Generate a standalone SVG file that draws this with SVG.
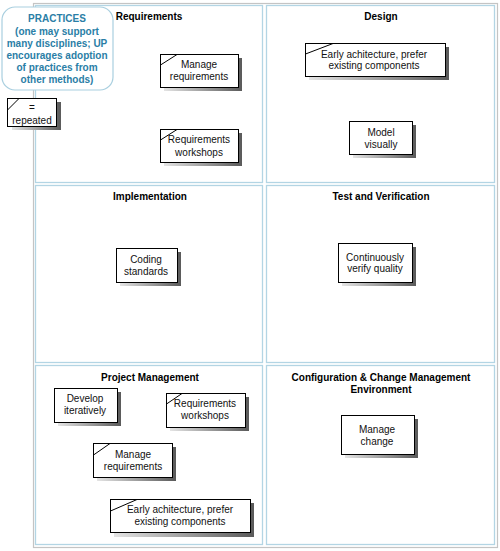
<svg xmlns="http://www.w3.org/2000/svg" width="500" height="551" viewBox="0 0 500 551">
<defs>
<linearGradient id="sh" x1="0" y1="0" x2="1" y2="0">
<stop offset="0" stop-color="#e4e4e4"/>
<stop offset="1" stop-color="#5a5a5a"/>
</linearGradient>
</defs>
<style>
.frame{fill:#fff;stroke:#c4c4c4;stroke-width:1.2}
.cell{fill:#fff;stroke:#b3d5e4;stroke-width:1.3}
.title{font-family:"Liberation Sans",Arial,sans-serif;font-size:10px;font-weight:bold;fill:#000;text-anchor:middle}
.t{font-family:"Liberation Sans",Arial,sans-serif;font-size:10px;fill:#111;text-anchor:middle}
.box{fill:#fff;stroke:#000;stroke-width:1}
.shadow{fill:url(#sh);stroke:none}
.rep{fill:none;stroke:#000;stroke-width:1}
.call{fill:#fff;stroke:#a9cfdf;stroke-width:1.2}
.ct{font-family:"Liberation Sans",Arial,sans-serif;font-size:10px;font-weight:bold;fill:#2a7ea6;text-anchor:middle}
</style>
<rect class="frame" x="33.5" y="3.5" width="464" height="544"/>
<g id="cell-requirements"><rect class="cell" x="35.5" y="5.5" width="227" height="177"/><text class="title" x="149" y="20">Requirements</text></g>
<g id="cell-design"><rect class="cell" x="266.5" y="5.5" width="228" height="177"/><text class="title" x="381" y="20">Design</text></g>
<g id="cell-implementation"><rect class="cell" x="35.5" y="185.5" width="227" height="177"/><text class="title" x="150" y="200">Implementation</text></g>
<g id="cell-test"><rect class="cell" x="266.5" y="185.5" width="228" height="177"/><text class="title" x="381" y="200">Test and Verification</text></g>
<g id="cell-pm"><rect class="cell" x="35.5" y="365.5" width="227" height="179"/><text class="title" x="150" y="381">Project Management</text></g>
<g id="cell-ccm"><rect class="cell" x="266.5" y="365.5" width="228" height="179"/><text class="title" x="381" y="381">Configuration &amp; Change Management</text><text class="title" x="381" y="393">Environment</text></g>
<g id="connectors"/>
<g id="practices-callout"><rect class="call" x="2" y="7" width="111" height="83" rx="13" ry="13"/>
<text class="ct" x="57" y="22">PRACTICES</text>
<text class="ct" x="57" y="34.5">(one may support</text>
<text class="ct" x="57" y="46.5">many disciplines; UP</text>
<text class="ct" x="57" y="58.5">encourages adoption</text>
<text class="ct" x="57" y="70.5">of practices from</text>
<text class="ct" x="57" y="82.5">other methods)</text></g>
<g id="legend-repeated"><rect class="shadow" x="12" y="102" width="49" height="28"/><rect class="box" x="7.5" y="98.5" width="49" height="28"/><line class="rep" x1="7.5" y1="110" x2="19" y2="98.5"/><text class="t" x="32" y="111">=</text><text class="t" x="32" y="124">repeated</text></g>
<g id="req-manage"><rect class="shadow" x="164" y="58" width="78" height="33"/><rect class="box" x="160.5" y="54.5" width="78" height="33"/><line class="rep" x1="160.5" y1="65" x2="177" y2="54.5"/><text class="t" x="199" y="67.5">Manage</text><text class="t" x="199" y="79.5">requirements</text></g>
<g id="req-workshops"><rect class="shadow" x="164" y="133" width="78" height="33"/><rect class="box" x="160.5" y="129.5" width="78" height="33"/><line class="rep" x1="160.5" y1="140" x2="177" y2="129.5"/><text class="t" x="199" y="142.5">Requirements</text><text class="t" x="199" y="155.5">workshops</text></g>
<g id="design-early"><rect class="shadow" x="309" y="47" width="140" height="33"/><rect class="box" x="305.5" y="43.5" width="140" height="33"/><line class="rep" x1="305.5" y1="54" x2="333" y2="43.5"/><text class="t" x="374" y="57.5">Early achitecture, prefer</text><text class="t" x="374" y="69">existing components</text></g>
<g id="design-model"><rect class="shadow" x="353" y="125" width="63" height="33"/><rect class="box" x="349.5" y="121.5" width="63" height="33"/><text class="t" x="381" y="135.5">Model</text><text class="t" x="381" y="147.5">visually</text></g>
<g id="impl-coding"><rect class="shadow" x="120" y="252" width="61" height="34"/><rect class="box" x="116.5" y="248.5" width="61" height="34"/><text class="t" x="146" y="262.5">Coding</text><text class="t" x="146" y="274.5">standards</text></g>
<g id="test-verify"><rect class="shadow" x="342" y="247" width="74" height="39"/><rect class="box" x="338.5" y="243.5" width="74" height="39"/><text class="t" x="375" y="260.5">Continuously</text><text class="t" x="375" y="272">verify quality</text></g>
<g id="pm-develop"><rect class="shadow" x="58" y="392" width="63" height="34"/><rect class="box" x="54.5" y="388.5" width="63" height="34"/><text class="t" x="85" y="401.5">Develop</text><text class="t" x="85" y="413.5">iteratively</text></g>
<g id="pm-workshops"><rect class="shadow" x="170" y="397" width="79" height="34"/><rect class="box" x="166.5" y="393.5" width="79" height="34"/><line class="rep" x1="166.5" y1="404" x2="182" y2="393.5"/><text class="t" x="205" y="406.5">Requirements</text><text class="t" x="205" y="418.5">workshops</text></g>
<g id="pm-manage"><rect class="shadow" x="97" y="447" width="79" height="34"/><rect class="box" x="93.5" y="443.5" width="79" height="34"/><line class="rep" x1="93.5" y1="455" x2="110" y2="443.5"/><text class="t" x="133" y="457.5">Manage</text><text class="t" x="133" y="469.5">requirements</text></g>
<g id="pm-early"><rect class="shadow" x="114" y="503" width="140" height="34"/><rect class="box" x="110.5" y="499.5" width="140" height="33"/><line class="rep" x1="110.5" y1="511" x2="137" y2="499.5"/><text class="t" x="180" y="512.5">Early achitecture, prefer</text><text class="t" x="180" y="525">existing components</text></g>
<g id="ccm-manage"><rect class="shadow" x="345" y="419" width="73" height="39"/><rect class="box" x="341.5" y="415.5" width="73" height="39"/><text class="t" x="377" y="432.5">Manage</text><text class="t" x="377" y="444.5">change</text></g>
</svg>
